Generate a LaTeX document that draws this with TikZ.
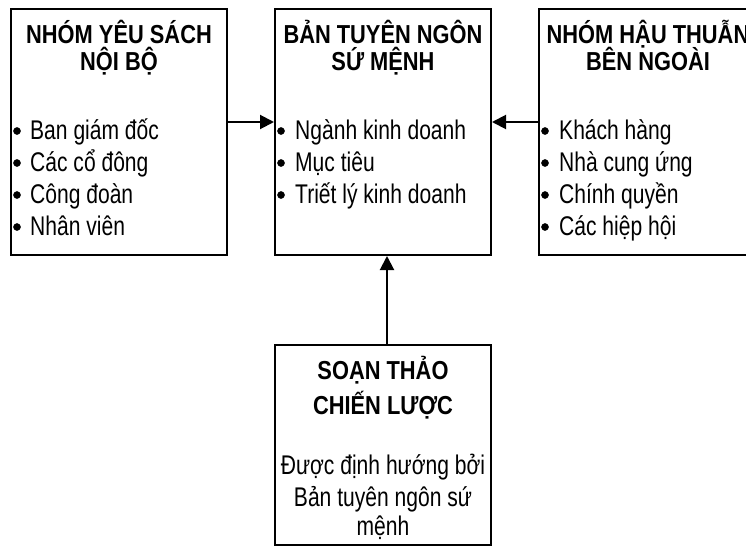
\documentclass[tikz,border=0pt]{standalone}
\usepackage{fontspec}
\setmainfont{Liberation Sans}[FakeStretch=0.78]
\newfontfamily\tfont{Liberation Sans}[FakeStretch=0.84]
\usetikzlibrary{arrows.meta}
\tikzset{
  box/.style={draw=black, line width=2pt, rectangle, inner sep=0pt},
  ttl/.style={anchor=base, inner sep=0pt, font=\tfont\bfseries\fontsize{26}{30}\selectfont},
  itm/.style={anchor=base west, inner sep=0pt, font=\fontsize{27}{32}\selectfont},
  ctr/.style={anchor=base, inner sep=0pt, font=\fontsize{27}{32}\selectfont},
  bul/.style={circle, fill=black, draw=black, line width=0.5pt, inner sep=0pt, minimum size=7pt},
  arr/.style={line width=2pt, -{Triangle[length=14pt,width=14pt]}},
}
\begin{document}
\begin{tikzpicture}[x=1pt,y=-1pt]
\useasboundingbox (0,0) rectangle (746,546);
\clip (0,0) rectangle (746,546);
% boxes
\node[box, minimum width=216pt, minimum height=246pt] (L) at (119,132) {};
\node[box, minimum width=216pt, minimum height=246pt] (C) at (383,132) {};
\node[box, minimum width=218pt, minimum height=246pt] (R) at (648,132) {};
\node[box, minimum width=216pt, minimum height=200pt] (B) at (383,445) {};
% left box text
\node[ttl] (l1) at (119,43) {NHÓM YÊU SÁCH};
\node[ttl] (l2) at (119,70) {NỘI BỘ};
\node[bul] (lb1) at (17,131) {};
\node[bul] (lb2) at (17,163) {};
\node[bul] (lb3) at (17,195) {};
\node[bul] (lb4) at (17,227) {};
\node[itm] (li1) at (30,139) {Ban giám đốc};
\node[itm] (li2) at (30,171) {Các cổ đông};
\node[itm] (li3) at (30,203) {Công đoàn};
\node[itm] (li4) at (30,235) {Nhân viên};
% centre box text
\node[ttl] (c1) at (383,43) {BẢN TUYÊN NGÔN};
\node[ttl] (c2) at (383,70) {SỨ MỆNH};
\node[bul] (cb1) at (281,131) {};
\node[bul] (cb2) at (281,163) {};
\node[bul] (cb3) at (281,195) {};
\node[itm] (ci1) at (295,139) {Ngành kinh doanh};
\node[itm] (ci2) at (295,171) {Mục tiêu};
\node[itm] (ci3) at (295,203) {Triết lý kinh doanh};
% right box text
\node[ttl] (r1) at (648,43) {NHÓM HẬU THUẪN};
\node[ttl] (r2) at (648,70) {BÊN NGOÀI};
\node[bul] (rb1) at (545,131) {};
\node[bul] (rb2) at (545,163) {};
\node[bul] (rb3) at (545,195) {};
\node[bul] (rb4) at (545,227) {};
\node[itm] (ri1) at (559,139) {Khách hàng};
\node[itm] (ri2) at (559,171) {Nhà cung ứng};
\node[itm] (ri3) at (559,203) {Chính quyền};
\node[itm] (ri4) at (559,235) {Các hiệp hội};
% bottom box text
\node[ttl] (b1) at (383,379) {SOẠN THẢO};
\node[ttl] (b2) at (383,414) {CHIẾN LƯỢC};
\node[ctr] (bt1) at (383,474) {Được định hướng bởi};
\node[ctr] (bt2) at (383,506) {Bản tuyên ngôn sứ};
\node[ctr] (bt3) at (383,535) {mệnh};
% arrows
\draw[arr] ([yshift=10pt]L.east) -- ([yshift=10pt]C.west);
\draw[arr] ([yshift=10pt]R.west) -- ([yshift=10pt]C.east);
\draw[arr] ([xshift=4pt]B.north) -- ([xshift=4pt]C.south);
\end{tikzpicture}
\end{document}
